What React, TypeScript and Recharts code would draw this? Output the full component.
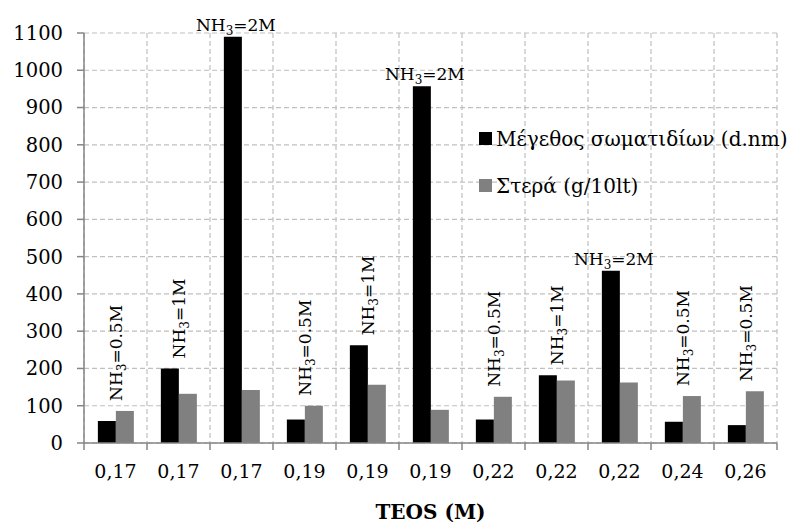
import React from 'react';
import { ComposedChart, Bar, XAxis, YAxis, CartesianGrid, Legend, LabelList, Label } from 'recharts';

const categories = ['0,17', '0,17', '0,17', '0,19', '0,19', '0,19', '0,22', '0,22', '0,22', '0,24', '0,26'];
const particleSize = [59, 200, 1090, 63, 262, 957, 63, 182, 462, 57, 48];
const solids = [86, 132, 142, 100, 156, 89, 124, 168, 162, 126, 139];
const nh3Labels = ['0.5M', '1M', '2M', '0.5M', '1M', '2M', '0.5M', '1M', '2M', '0.5M', '0.5M'];
const yTicks = [0, 100, 200, 300, 400, 500, 600, 700, 800, 900, 1000, 1100];

const sizeName = 'Μέγεθος σωματιδίων (d.nm)';
const solidName = 'Στερά (g/10lt)';

const FONT = '"DejaVu Serif", serif';
const AXIS_COLOR = '#868686';
const GRID_COLOR = '#c0c0c0';
const X_TICK_MARGIN = 22;
const X_TICK_LEN = 7;

const data = categories.map((c, i) => ({
  cat: c,
  size: particleSize[i],
  solid: solids[i],
}));

const renderNh3 = (props: any) => {
  const { x, y, width, height, index } = props;
  const v = particleSize[index];
  const base = Number(y) + Number(height);
  const perUnit = Number(height) / v;
  const grayTop = base - solids[index] * perUnit;
  const center = Number(x) + Number(width);
  const label = nh3Labels[index];
  const content = [
    <tspan key="a">NH</tspan>,
    <tspan key="b" fontSize={12} dy={4}>3</tspan>,
    <tspan key="c" dy={-4}>{'=' + label}</tspan>,
  ];
  if (label === '2M') {
    return (
      <text
        x={Number(x) + Number(width) / 2 + 3}
        y={Number(y) - 6}
        textAnchor="middle"
        fontSize={17}
        fontFamily={FONT}
        fill="#000"
      >
        {content}
      </text>
    );
  }
  const bottom = Math.min(Number(y), grayTop) - 10;
  const bx = center + 6;
  return (
    <text
      x={bx}
      y={bottom}
      transform={`rotate(-90 ${bx} ${bottom})`}
      textAnchor="start"
      fontSize={17}
      fontFamily={FONT}
      fill="#000"
    >
      {content}
    </text>
  );
};

const renderXTick = (props: any) => {
  const { x, y, payload, index, visibleTicksCount } = props;
  const half = payload && typeof payload.offset === 'number' && payload.offset > 0 ? payload.offset : 693 / 22;
  const axisY = Number(y) - X_TICK_MARGIN;
  const isLast = index === (visibleTicksCount ?? categories.length) - 1;
  return (
    <g>
      <line x1={x - half} x2={x - half} y1={axisY} y2={axisY + X_TICK_LEN} stroke={AXIS_COLOR} strokeWidth={1.5} />
      {isLast && (
        <line x1={x + half} x2={x + half} y1={axisY} y2={axisY + X_TICK_LEN} stroke={AXIS_COLOR} strokeWidth={1.5} />
      )}
      <text x={x} y={y} dy="0.71em" textAnchor="middle" fontSize={19} fontFamily={FONT} fill="#000">
        {payload.value}
      </text>
    </g>
  );
};

const renderLegend = (props: any) => {
  const payload = props.payload || [];
  return (
    <div style={{ fontFamily: FONT, fontSize: 20, color: '#000' }}>
      {payload.map((entry: any, i: number) => (
        <div key={i} style={{ display: 'flex', alignItems: 'center', height: 47 }}>
          <span
            style={{
              display: 'inline-block',
              width: 13,
              height: 13,
              background: entry.color,
              marginRight: 4,
            }}
          />
          <span style={{ whiteSpace: 'nowrap' }}>{entry.value}</span>
        </div>
      ))}
    </div>
  );
};

const gridVerticals = (args: any) => {
  const off = args.offset;
  const n = categories.length;
  const out: number[] = [];
  for (let i = 0; i <= n; i++) out.push(off.left + (off.width * i) / n);
  return out;
};

export default function App() {
  return (
    <div style={{ position: 'absolute', left: 0, top: 0, width: 795, height: 525, background: '#fff' }}>
      <ComposedChart
        width={795}
        height={525}
        data={data}
        margin={{ top: 33, right: 18, left: 0, bottom: 0 }}
        barCategoryGap="22%"
        barGap={0}
      >
        <CartesianGrid
          stroke={GRID_COLOR}
          strokeDasharray="5 3"
          strokeWidth={1.2}
          verticalCoordinatesGenerator={gridVerticals}
        />
        <XAxis
          dataKey="cat"
          type="category"
          height={82}
          axisLine={{ stroke: AXIS_COLOR, strokeWidth: 1.5 }}
          tickLine={false}
          tickSize={0}
          tickMargin={X_TICK_MARGIN}
          interval={0}
          tick={renderXTick}
        >
          <Label
            value="TEOS (M)"
            position="insideBottom"
            offset={6}
            style={{ fill: '#000', fontSize: 20, fontWeight: 'bold', fontFamily: FONT }}
          />
        </XAxis>
        <YAxis
          domain={[0, 1100]}
          ticks={yTicks}
          width={84}
          interval={0}
          tickSize={7}
          tickMargin={14}
          axisLine={{ stroke: AXIS_COLOR, strokeWidth: 1.5 }}
          tickLine={{ stroke: AXIS_COLOR, strokeWidth: 1.5 }}
          tick={{ fill: '#000', fontSize: 19.5, fontFamily: FONT }}
        />
        <Legend
          content={renderLegend}
          layout="horizontal"
          verticalAlign="middle"
          align="center"
          wrapperStyle={{ position: 'absolute', left: 479, top: 115, width: 316, height: 94 }}
        />
        <Bar dataKey="size" name={sizeName} fill="#000000" isAnimationActive={false}>
          <LabelList dataKey="size" content={renderNh3} />
        </Bar>
        <Bar dataKey="solid" name={solidName} fill="#808080" isAnimationActive={false} />
      </ComposedChart>
    </div>
  );
}
